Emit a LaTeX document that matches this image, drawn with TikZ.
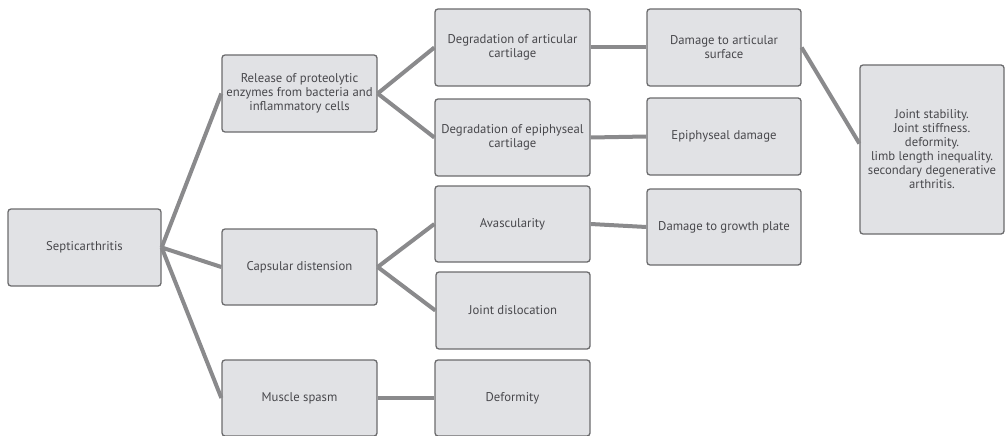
\documentclass[tikz,border=0pt]{standalone}
\usepackage{fontspec}
\setmainfont{PT Sans}
\usetikzlibrary{calc}
\definecolor{boxfill}{HTML}{E1E2E5}
\definecolor{boxline}{HTML}{6B6B6D}
\definecolor{txt}{HTML}{48484C}
\definecolor{conn}{HTML}{8A8A8C}
\begin{document}
\begin{tikzpicture}[x=1pt,y=1pt,
  box/.style={draw=boxline,line width=1.3pt,fill=boxfill,rounded corners=3pt,
    text=txt,align=center,font=\fontsize{12.7}{14}\selectfont,inner sep=1pt},
  bw/.style={minimum width=155pt,minimum height=77pt},
  link/.style={draw=conn,line width=4pt}]
\useasboundingbox (0,0) rectangle (1006,-436);
\node[box,bw,minimum width=153pt] (sep) at (84.5,-247.5) {Septicarthritis};
\node[box,bw] (rel) at (299.5,-93.5) {Release of proteolytic\\enzymes from bacteria and\\inflammatory cells};
\node[box,bw,minimum height=76pt] (cap) at (299.5,-267) {Capsular distension};
\node[box,bw,minimum height=76pt] (mus) at (299.5,-398) {Muscle spasm};
\node[box,bw] (dart) at (512.5,-47.5) {Degradation of articular\\cartilage};
\node[box,bw] (depi) at (512.5,-137.5) {Degradation of epiphyseal\\cartilage};
\node[box,bw,minimum height=76pt] (avas) at (512.5,-224) {Avascularity};
\node[box,bw,minimum width=154pt] (jdis) at (513,-310.5) {Joint dislocation};
\node[box,bw,minimum height=76pt] (defo) at (512.5,-398) {Deformity};
\node[box,bw,minimum width=154pt] (dsurf) at (724,-47.5) {Damage to articular\\surface};
\node[box,bw,minimum width=154pt] (edam) at (724,-136.5) {Epiphyseal damage};
\node[box,bw,minimum width=154pt,minimum height=76pt] (grow) at (724,-227) {Damage to growth plate};
\node[box,minimum width=144pt,minimum height=169pt] (res) at (932,-149.5)
  {Joint stability.\\Joint stiffness.\\deformity.\\limb length inequality.\\secondary degenerative\\arthritis.};
\coordinate (resin) at ($(res.west)+(0,6)$);
\draw[link] (sep.east) -- (rel.west);
\draw[link] (sep.east) -- (cap.west);
\draw[link] (sep.east) -- (mus.west);
\draw[link] (rel.east) -- (dart.west);
\draw[link] (rel.east) -- (depi.west);
\draw[link] (cap.east) -- (avas.west);
\draw[link] (cap.east) -- (jdis.west);
\draw[link] (mus.east) -- (defo.west);
\draw[link] (dart.east) -- (dsurf.west);
\draw[link] (depi.east) -- (edam.west);
\draw[link] (avas.east) -- (grow.west);
\draw[link] (dsurf.east) -- (resin);
\end{tikzpicture}
\end{document}
